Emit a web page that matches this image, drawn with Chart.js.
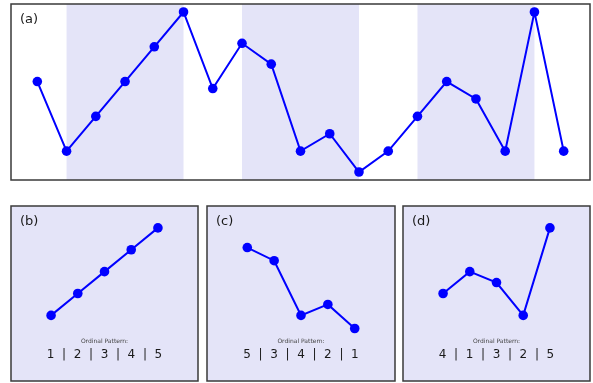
<!DOCTYPE html>
<html>
<head>
<meta charset="utf-8">
<script src="https://cdn.jsdelivr.net/npm/chart.js@4/dist/chart.umd.min.js"></script>
<style>
  html, body { margin: 0; padding: 0; background: #ffffff; overflow: hidden; }
  body { width: 593px; height: 383px; position: relative; }
  canvas { position: absolute; }
</style>
</head>
<body>
<canvas id="main"></canvas>
<canvas id="w0"></canvas>
<canvas id="w1"></canvas>
<canvas id="w2"></canvas>
<script>
// Time series and the sliding windows cut from it
const series = [2, 0, 1, 2, 3, 4, 1.8, 3.1, 2.5, 0, 0.5, -0.6, 0, 1, 2, 1.5, 0, 4, 0];
const windowStarts = [1, 7, 13];
const windowLength = 5;
const panelLabels = ['(a)', '(b)', '(c)', '(d)'];
const patternTitle = 'Ordinal Pattern:';
const ordinalPatterns = [[1, 2, 3, 4, 5], [5, 3, 4, 2, 1], [4, 1, 3, 2, 5]];

const LINE = '#0000ff';
const SHADE = '#e4e4f8';
const FRAME = '#3a3a3a';
const FONT = '"DejaVu Sans", sans-serif';
const PAD = 3;

// Plot areas (left, top, width, height) of the four panels
const mainBox = { left: 11, top: 4, width: 579, height: 176 };
const windowBoxes = [
  { left: 11, top: 206, width: 187, height: 175 },
  { left: 207, top: 206, width: 188, height: 175 },
  { left: 403, top: 206, width: 187, height: 175 }
];

function placeCanvas(id, box) {
  const c = document.getElementById(id);
  c.width = box.width + 2 * PAD;
  c.height = box.height + 2 * PAD;
  c.style.left = (box.left - PAD) + 'px';
  c.style.top = (box.top - PAD) + 'px';
  c.style.width = c.width + 'px';
  c.style.height = c.height + 'px';
  return c;
}

const panelPlugin = {
  id: 'panelDecor',
  beforeDatasetsDraw(chart, args, opts) {
    const { ctx, chartArea: a, scales } = chart;
    ctx.save();
    ctx.fillStyle = SHADE;
    if (opts.fullShade) {
      ctx.fillRect(a.left, a.top, a.right - a.left, a.bottom - a.top);
    }
    (opts.bands || []).forEach(([s, e]) => {
      const x0 = scales.x.getPixelForValue(s);
      const x1 = scales.x.getPixelForValue(e);
      ctx.fillRect(x0, a.top, x1 - x0, a.bottom - a.top);
    });
    ctx.restore();
  },
  afterDraw(chart, args, opts) {
    const { ctx, chartArea: a } = chart;
    ctx.save();
    ctx.strokeStyle = FRAME;
    ctx.lineWidth = 1.5;
    ctx.strokeRect(a.left, a.top, a.right - a.left, a.bottom - a.top);

    ctx.fillStyle = '#1a1a1a';
    ctx.font = '13px ' + FONT;
    ctx.textAlign = 'left';
    ctx.textBaseline = 'middle';
    ctx.fillText(opts.label, a.left + 9, a.top + 16);

    if (opts.pattern) {
      const cx = (a.left + a.right) / 2;
      ctx.textAlign = 'center';
      ctx.fillStyle = '#444444';
      ctx.font = '6px ' + FONT;
      ctx.fillText(patternTitle, cx, a.top + 135);
      ctx.fillStyle = '#1a1a1a';
      ctx.font = '12px ' + FONT;
      ctx.fillText(opts.pattern.join('  |  '), cx, a.top + 149);
    }
    ctx.restore();
  }
};

function makeChart(canvas, values, xRange, yRange, decor) {
  return new Chart(canvas, {
    type: 'line',
    data: {
      datasets: [{
        data: values.map((v, i) => ({ x: i, y: v })),
        borderColor: LINE,
        backgroundColor: LINE,
        borderWidth: 2,
        pointRadius: 4.8,
        pointBorderWidth: 0,
        pointBackgroundColor: LINE,
        tension: 0,
        clip: false
      }]
    },
    options: {
      responsive: false,
      animation: false,
      devicePixelRatio: 1,
      layout: { padding: PAD, autoPadding: false },
      scales: {
        x: { type: 'linear', min: xRange[0], max: xRange[1], display: false },
        y: { type: 'linear', min: yRange[0], max: yRange[1], display: false }
      },
      plugins: {
        legend: { display: false },
        tooltip: { enabled: false },
        panelDecor: decor
      }
    },
    plugins: [panelPlugin]
  });
}

// Full series with the three windows shaded
const n = series.length;
const lo = Math.min(...series), hi = Math.max(...series);
const mx = (n - 1) * 0.05, my = (hi - lo) * 0.05;
makeChart(
  placeCanvas('main', mainBox),
  series,
  [-mx, n - 1 + mx],
  [lo - my, hi + my],
  { label: panelLabels[0], bands: windowStarts.map(s => [s, s + windowLength - 1]) }
);

// One panel per window
windowStarts.forEach((s, k) => {
  makeChart(
    placeCanvas('w' + k, windowBoxes[k]),
    series.slice(s, s + windowLength),
    [-1.5, windowLength - 1 + 1.5],
    [-3, 5],
    { label: panelLabels[k + 1], fullShade: true, pattern: ordinalPatterns[k] }
  );
});
</script>
</body>
</html>
